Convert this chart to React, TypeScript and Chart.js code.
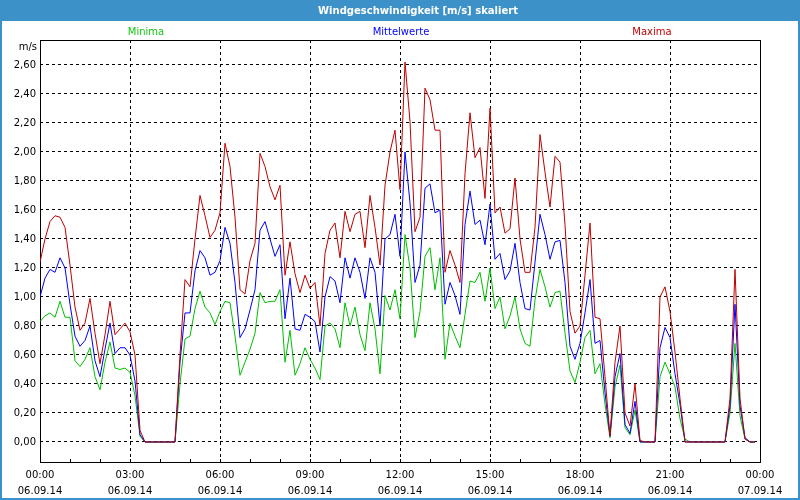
import { useEffect, useRef } from "react";
import { Chart, registerables } from "chart.js";

Chart.register(...registerables);

const chartTitle = "Windgeschwindigkeit [m/s] skaliert";
const unitLabel = "m/s";
const seriesNames = ["Minima", "Mittelwerte", "Maxima"];

// one value every 10 minutes, starting 06.09.14 00:00
const intervalMinutes = 10;

const maxima = [
  1.24, 1.40, 1.52, 1.56, 1.55, 1.48, 1.22, 0.93, 0.77, 0.82,
  0.99, 0.75, 0.54, 0.74, 0.97, 0.74, 0.78, 0.82, 0.76, 0.60,
  0.08, 0, 0, 0, 0, 0, 0, 0, 0.60, 1.12,
  1.07, 1.40, 1.70, 1.56, 1.41, 1.46, 1.58, 2.06, 1.90, 1.55,
  1.05, 1.02, 1.25, 1.37, 1.99, 1.90, 1.76, 1.67, 1.77, 1.15,
  1.38, 1.16, 1.03, 1.15, 1.06, 1.10, 0.80, 1.30, 1.46, 1.51,
  1.27, 1.59, 1.45, 1.57, 1.59, 1.34, 1.70, 1.48, 1.22, 1.77,
  2.00, 2.15, 1.74, 2.62, 2.21, 1.45, 1.55, 2.44, 2.36, 2.15,
  2.15, 1.17, 1.32, 1.22, 1.10, 1.85, 2.27, 1.96, 2.03, 1.68,
  2.30, 1.58, 1.62, 1.44, 1.47, 1.82, 1.40, 1.17, 1.17, 1.48,
  2.12, 1.86, 1.62, 1.97, 1.93, 1.50, 0.90, 0.75, 0.80, 1.15,
  1.51, 0.86, 0.85, 0.45, 0.04, 0.55, 0.80, 0.20, 0.11, 0.40,
  0.01, 0, 0, 0, 1.00, 1.07, 0.90, 0.62, 0.30, 0,
  0, 0, 0, 0, 0, 0, 0, 0, 0.30, 1.19,
  0.30, 0.02, 0, 0,
];

const mittelwerte = [
  1.00, 1.13, 1.19, 1.17, 1.27, 1.20, 0.95, 0.73, 0.66, 0.70,
  0.80, 0.56, 0.45, 0.64, 0.82, 0.61, 0.65, 0.65, 0.60, 0.42,
  0.05, 0, 0, 0, 0, 0, 0, 0, 0.55, 0.89,
  0.89, 1.18, 1.32, 1.27, 1.15, 1.17, 1.25, 1.48, 1.37, 1.10,
  0.72, 0.78, 0.91, 1.05, 1.46, 1.52, 1.40, 1.28, 1.36, 0.85,
  1.13, 0.78, 0.77, 0.88, 0.86, 0.83, 0.62, 1.00, 1.14, 1.11,
  0.96, 1.27, 1.13, 1.27, 1.17, 0.99, 1.27, 1.17, 0.80, 1.40,
  1.43, 1.57, 1.28, 2.00, 1.65, 1.10, 1.22, 1.75, 1.78, 1.58,
  1.60, 0.95, 1.10, 1.01, 0.88, 1.50, 1.73, 1.50, 1.53, 1.36,
  1.64, 1.26, 1.30, 1.12, 1.18, 1.37, 1.10, 0.92, 0.91, 1.24,
  1.57, 1.43, 1.26, 1.38, 1.39, 1.10, 0.66, 0.57, 0.68, 0.89,
  1.12, 0.68, 0.70, 0.34, 0.04, 0.45, 0.61, 0.12, 0.06, 0.28,
  0, 0, 0, 0, 0.65, 0.79, 0.72, 0.47, 0.26, 0,
  0, 0, 0, 0, 0, 0, 0, 0, 0.25, 0.95,
  0.25, 0.03, 0, 0,
];

const minima = [
  0.83, 0.87, 0.89, 0.86, 0.97, 0.86, 0.86, 0.56, 0.52, 0.57,
  0.65, 0.45, 0.36, 0.55, 0.69, 0.51, 0.50, 0.51, 0.48, 0.32,
  0.04, 0, 0, 0, 0, 0, 0, 0, 0.40, 0.71,
  0.73, 0.92, 1.04, 0.93, 0.89, 0.81, 0.90, 0.97, 0.96, 0.73,
  0.46, 0.55, 0.64, 0.75, 1.03, 0.96, 0.97, 0.97, 1.05, 0.55,
  0.77, 0.46, 0.54, 0.65, 0.57, 0.51, 0.43, 0.80, 0.82, 0.78,
  0.65, 0.96, 0.80, 0.93, 0.74, 0.63, 0.96, 0.78, 0.47, 1.01,
  0.91, 1.05, 0.85, 1.43, 1.20, 0.72, 0.90, 1.28, 1.34, 1.05,
  1.27, 0.57, 0.82, 0.73, 0.65, 0.88, 1.11, 1.10, 1.17, 0.97,
  1.20, 0.92, 1.00, 0.78, 0.87, 1.00, 0.78, 0.68, 0.66, 0.98,
  1.19, 1.07, 0.93, 1.03, 1.04, 0.75, 0.49, 0.41, 0.55, 0.72,
  0.77, 0.47, 0.54, 0.26, 0.03, 0.38, 0.53, 0.10, 0.05, 0.22,
  0, 0, 0, 0, 0.45, 0.55, 0.47, 0.38, 0.16, 0.02,
  0, 0, 0, 0, 0, 0, 0, 0, 0.20, 0.68,
  0.18, 0.02, 0, 0,
];

const xTickMinutes = [0, 180, 360, 540, 720, 900, 1080, 1260, 1440];
const xTickTimes = ["00:00", "03:00", "06:00", "09:00", "12:00", "15:00", "18:00", "21:00", "00:00"];
const xTickDates = ["06.09.14", "06.09.14", "06.09.14", "06.09.14", "06.09.14", "06.09.14", "06.09.14", "06.09.14", "07.09.14"];
const minorTickMinutes = [0, 60, 120, 180, 240, 300, 360, 420, 480, 540, 600, 660, 720, 780, 840, 900, 960, 1020, 1080, 1140, 1200, 1260, 1320, 1380, 1440];
const yTicks = [0, 0.2, 0.4, 0.6, 0.8, 1.0, 1.2, 1.4, 1.6, 1.8, 2.0, 2.2, 2.4, 2.6];

const Y_MIN = -0.138;
const Y_MAX = 2.772;

const COLORS = {
  min: "#00c000",
  minText: "#10c810",
  mean: "#0000ff",
  max: "#c00000",
  bar: "#3d91c9",
};
const FONT = "'DejaVu Sans', Verdana, sans-serif";

const toPoints = (arr: number[]) => arr.map((v, i) => ({ x: i * intervalMinutes, y: v }));

const decorPlugin = {
  id: "decor",
  beforeDraw(chart: any) {
    const { ctx, width, height } = chart;
    ctx.save();
    ctx.fillStyle = "#ffffff";
    ctx.fillRect(0, 0, width, height);
    // title bar
    ctx.fillStyle = COLORS.bar;
    ctx.fillRect(0, 0, width, 21);
    // outer frame
    ctx.strokeStyle = COLORS.bar;
    ctx.lineWidth = 2;
    ctx.strokeRect(1, 1, width - 2, height - 2);
    // title
    ctx.fillStyle = "#ffffff";
    ctx.font = `bold 11px ${FONT}`;
    ctx.textAlign = "center";
    ctx.textBaseline = "middle";
    ctx.fillText(chartTitle, 418, 11, 200);
    // legend labels
    ctx.font = `10px ${FONT}`;
    ctx.fillStyle = COLORS.minText;
    ctx.fillText(seriesNames[0], 146, 32);
    ctx.fillStyle = COLORS.mean;
    ctx.fillText(seriesNames[1], 401, 32);
    ctx.fillStyle = COLORS.max;
    ctx.fillText(seriesNames[2], 652, 32);
    // unit
    ctx.fillStyle = "#000000";
    ctx.textAlign = "right";
    ctx.fillText(unitLabel, 37, 47);
    ctx.restore();
  },
  beforeDatasetsDraw(chart: any) {
    const { ctx, chartArea } = chart;
    const xs = chart.scales.x;
    ctx.save();
    ctx.strokeStyle = "#000000";
    ctx.lineWidth = 1;
    ctx.strokeRect(chartArea.left + 0.5, chartArea.top + 0.5, chartArea.right - chartArea.left, chartArea.bottom - chartArea.top);
    ctx.beginPath();
    for (const m of minorTickMinutes) {
      const px = Math.round(xs.getPixelForValue(m)) + 0.5;
      ctx.moveTo(px, chartArea.bottom + 0.5);
      ctx.lineTo(px, chartArea.bottom - 3);
    }
    ctx.stroke();
    ctx.restore();
  },
};

export default function App() {
  const ref = useRef<HTMLCanvasElement | null>(null);

  useEffect(() => {
    document.body.style.margin = "0";
    const canvas = ref.current;
    if (!canvas) return;
    const lastX = xTickMinutes.length - 1;
    const chart = new Chart(canvas, {
      type: "line",
      data: {
        datasets: [
          { label: seriesNames[2], data: toPoints(maxima), borderColor: COLORS.max, borderWidth: 1, pointRadius: 0, fill: false, tension: 0 },
          { label: seriesNames[1], data: toPoints(mittelwerte), borderColor: COLORS.mean, borderWidth: 1, pointRadius: 0, fill: false, tension: 0 },
          { label: seriesNames[0], data: toPoints(minima), borderColor: COLORS.min, borderWidth: 1, pointRadius: 0, fill: false, tension: 0 },
        ],
      },
      options: {
        responsive: false,
        animation: false,
        devicePixelRatio: 1,
        layout: { padding: { top: 40, right: 40, left: 0, bottom: 0 } },
        plugins: {
          legend: { display: false },
          title: { display: false },
          tooltip: { enabled: false },
        },
        scales: {
          x: {
            type: "linear",
            min: 0,
            max: 1440,
            afterBuildTicks: (s: any) => {
              s.ticks = xTickMinutes.map((v) => ({ value: v }));
            },
            afterFit: (s: any) => {
              s.height = 38;
            },
            ticks: {
              autoSkip: false,
              maxRotation: 0,
              minRotation: 0,
              padding: 5,
              color: "#000000",
              font: { family: FONT, size: 10, lineHeight: 1.6 },
              callback: (_v: any, i: number) => [xTickTimes[i], xTickDates[i]],
            },
            grid: {
              drawTicks: false,
              lineWidth: 1,
              color: (c: any) => (c.index === 0 || c.index === lastX ? "rgba(0,0,0,0)" : "#000000"),
            },
            border: { display: false, dash: [3, 3] },
          },
          y: {
            type: "linear",
            min: Y_MIN,
            max: Y_MAX,
            afterBuildTicks: (s: any) => {
              s.ticks = yTicks.map((v) => ({ value: v }));
            },
            afterFit: (s: any) => {
              s.width = 40;
            },
            ticks: {
              padding: 4,
              color: "#000000",
              font: { family: FONT, size: 10 },
              callback: (v: any) => Number(v).toFixed(2).replace(".", ","),
            },
            grid: { drawTicks: false, lineWidth: 1, color: "#000000" },
            border: { display: false, dash: [3, 3] },
          },
        },
      },
      plugins: [decorPlugin],
    } as any);
    return () => chart.destroy();
  }, []);

  return (
    <div style={{ position: "absolute", left: 0, top: 0, width: 800, height: 500 }}>
      <canvas ref={ref} width={800} height={500} style={{ display: "block" }} />
    </div>
  );
}
